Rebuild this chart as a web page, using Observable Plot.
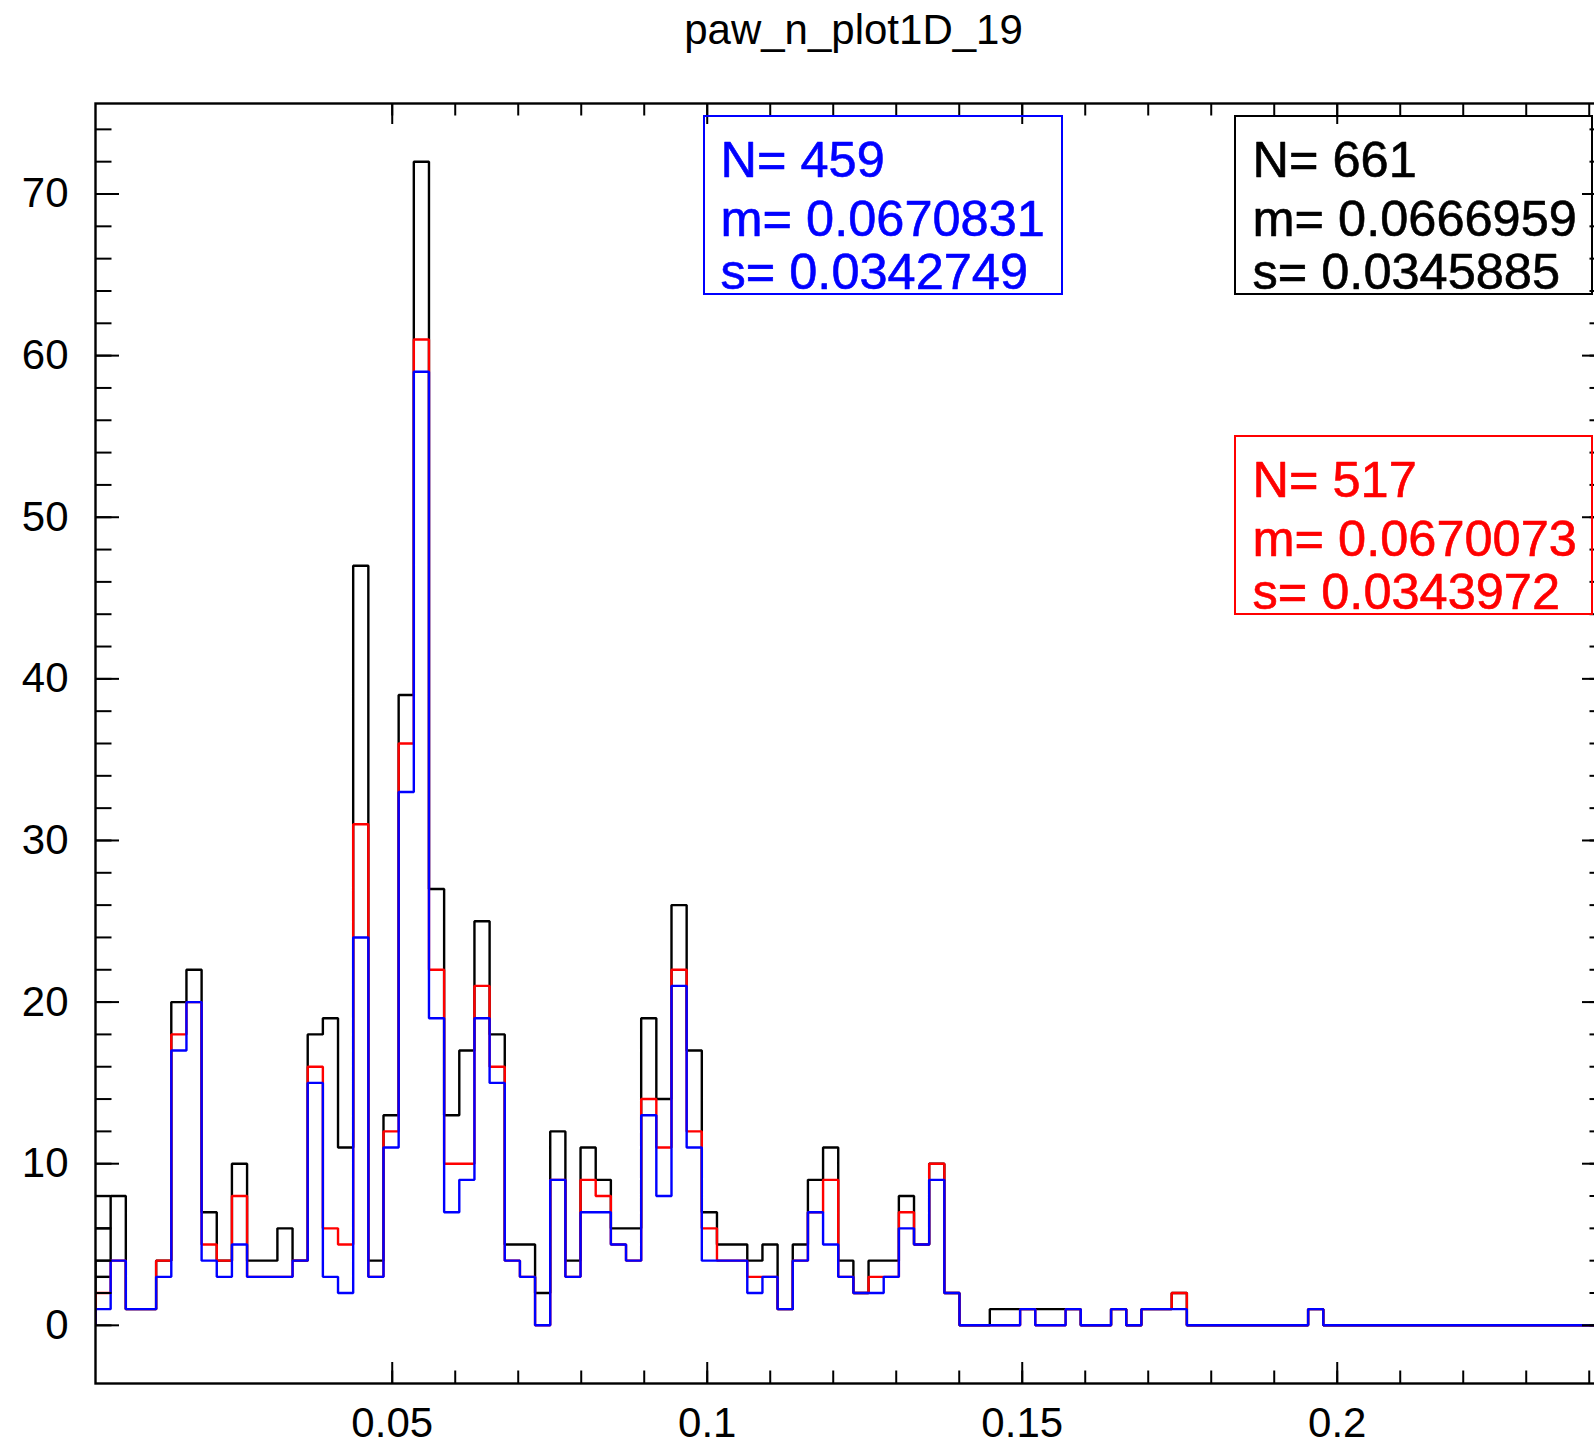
<!DOCTYPE html>
<html>
<head>
<meta charset="utf-8">
<script src="https://cdn.jsdelivr.net/npm/d3@7"></script>
<script src="https://cdn.jsdelivr.net/npm/@observablehq/plot@0.6"></script>
<style>
html, body { margin: 0; padding: 0; background: #fff; overflow: hidden; }
#chart { position: relative; width: 1594px; height: 1447px; overflow: hidden; }
#chart svg { max-width: none !important; }
</style>
</head>
<body>
<div id="chart"></div>
<script>
// ---------------- data ----------------
const title = "paw_n_plot1D_19";
const binStart = 0.0029;
const binWidth = 0.002406;

const countsBlack = [4,8,1,1,4,20,22,7,4,10, 4,4,6,4,18,19,11,47,4,13, 39,72,27,13,17,25,18,5,5,2,
  12,4,11,9,6,6,19,14,26,17, 7,5,5,4,5,1,5,9,11,4, 2,4,4,8,5,10,2,0,0,1, 1,1,1,1,1,0,0,1,0,1,
  1,2,0,0,0,0,0,0,0,0, 1,0,0,0,0,0,0,0,0,0, 0,0,0,0,0,0,0,0,0,0];
const countsRed = [2,4,1,1,4,18,20,5,4,8, 3,3,3,4,16,6,5,31,3,12, 36,61,22,10,10,21,16,4,3,0,
  9,3,9,8,5,4,14,11,22,12, 6,4,4,3,3,1,4,7,9,3, 2,3,3,7,5,10,2,0,0,0, 0,1,0,0,1,0,0,1,0,1,
  1,2,0,0,0,0,0,0,0,0, 1,0,0,0,0,0,0,0,0,0, 0,0,0,0,0,0,0,0,0,0];
const countsBlue = [1,4,1,1,3,17,20,4,3,5, 3,3,3,4,15,3,2,24,3,11, 33,59,19,7,9,19,15,4,3,0,
  9,3,7,7,5,4,13,8,21,11, 4,4,4,2,3,1,4,7,5,3, 2,2,3,6,5,9,2,0,0,0, 0,1,0,0,1,0,0,1,0,1,
  1,1,0,0,0,0,0,0,0,0, 1,0,0,0,0,0,0,0,0,0, 0,0,0,0,0,0,0,0,0,0];
// extra short black segments visible inside the first bin
const blackBin0Extra = [8, 6, 3];

const xMajorTicks = [0.05, 0.1, 0.15, 0.2];
const xTickLabels = ["0.05", "0.1", "0.15", "0.2"];
const xMinorTicks = [0.05,0.06,0.07,0.08,0.09,0.1,0.11,0.12,0.13,0.14,0.15,0.16,0.17,0.18,0.19,0.2,0.21,0.22,0.23,0.24];
const yMajorTicks = [0,10,20,30,40,50,60,70];
const yMinorTicks = [0,2,4,6,8,10,12,14,16,18,20,22,24,26,28,30,32,34,36,38,40,42,44,46,48,50,52,54,56,58,60,62,64,66,68,70,72,74];

const statsBlue  = ["N= 459", "m= 0.0670831", "s= 0.0342749"];
const statsBlack = ["N= 661", "m= 0.0666959", "s= 0.0345885"];
const statsRed   = ["N= 517", "m= 0.0670073", "s= 0.0343972"];

// ---------------- layout ----------------
const W = 1606, H = 1447;
const mL = 95, mR = 0, mT = 103, mB = 64;
const xMin = 0.0029, xMax = 0.0029 + (W - mL - mR) / 6300;
const yMin = -3.6, yMax = 75.6;
const kx = (W - mL - mR) / (xMax - xMin);
const ky = (H - mT - mB) / (yMax - yMin);
const FONT = "'Liberation Sans', Arial, Helvetica, sans-serif";
const LW = 2.4;

function outline(counts) {
  const pts = [{x: binStart, y: 0}];
  counts.forEach((v, i) => pts.push({x: binStart + i * binWidth, y: v}));
  pts.push({x: binStart + counts.length * binWidth, y: counts[counts.length - 1]});
  return pts;
}

const lineOpts = (color) => ({x: "x", y: "y", curve: "step-after", stroke: color, strokeWidth: LW,
  strokeLinejoin: "miter", strokeLinecap: "butt", clip: true});

const marks = [
  Plot.line(outline(countsBlack), lineOpts("#000000")),
  Plot.ruleY(blackBin0Extra, {y: d => d, x1: binStart, x2: binStart + binWidth, stroke: "#000", strokeWidth: LW}),
  Plot.line(outline(countsRed), lineOpts("#ff0000")),
  Plot.line(outline(countsBlue), lineOpts("#0000ff")),
  // inward ticks, bottom and top
  Plot.ruleX(xMajorTicks, {x: d => d, y1: yMin, y2: yMin + 21 / ky, stroke: "#000", strokeWidth: 2}),
  Plot.ruleX(xMinorTicks, {x: d => d, y1: yMin, y2: yMin + 12.5 / ky, stroke: "#000", strokeWidth: 2}),
  Plot.ruleX(xMajorTicks, {x: d => d, y1: yMax, y2: yMax - 21 / ky, stroke: "#000", strokeWidth: 2}),
  Plot.ruleX(xMinorTicks, {x: d => d, y1: yMax, y2: yMax - 12.5 / ky, stroke: "#000", strokeWidth: 2}),
  // inward ticks, left and right
  Plot.ruleY(yMajorTicks, {y: d => d, x1: xMin, x2: xMin + 24 / kx, stroke: "#000", strokeWidth: 2}),
  Plot.ruleY(yMinorTicks, {y: d => d, x1: xMin, x2: xMin + 16.5 / kx, stroke: "#000", strokeWidth: 2}),
  Plot.ruleY(yMajorTicks, {y: d => d, x1: xMax, x2: xMax - 24 / kx, stroke: "#000", strokeWidth: 2}),
  Plot.ruleY(yMinorTicks, {y: d => d, x1: xMax, x2: xMax - 16.5 / kx, stroke: "#000", strokeWidth: 2}),
  Plot.frame({stroke: "#000", strokeWidth: 2.4}),
  Plot.axisX(xMajorTicks, {tickSize: 0, tickPadding: 24, fontSize: 42, label: null,
    tickFormat: (d, i) => xTickLabels[i], fill: "#000", stroke: "#000", strokeWidth: 0.4}),
  Plot.axisY(yMajorTicks, {tickSize: 0, tickPadding: 27, fontSize: 42, label: null,
    tickFormat: d => String(d), fill: "#000", stroke: "#000", strokeWidth: 0.4}),
  Plot.text([title], {text: d => d, frameAnchor: "top", dx: 2.5, dy: -60, lineAnchor: "bottom",
    fontSize: 42, fill: "#000"})
];

const boxes = [
  {lines: statsBlue,  color: "#0000ff", tx: 720,  baselines: [176, 235, 288], rect: [704, 116, 1062, 294]},
  {lines: statsBlack, color: "#000000", tx: 1252, baselines: [176, 235, 288], rect: [1235, 116, 1592, 294]},
  {lines: statsRed,   color: "#ff0000", tx: 1252, baselines: [496, 555, 608], rect: [1235, 436, 1592, 614]}
];
for (const b of boxes) {
  b.lines.forEach((s, i) => {
    marks.push(Plot.text([s], {text: d => d, frameAnchor: "top-left", dx: b.tx - mL, dy: b.baselines[i] - mT,
      lineAnchor: "bottom", textAnchor: "start", fontSize: 50.5, fill: b.color,
      stroke: b.color, strokeWidth: 0.6}));
  });
}

const chart = Plot.plot({
  width: W, height: H,
  marginLeft: mL, marginRight: mR, marginTop: mT, marginBottom: mB,
  x: {domain: [xMin, xMax]},
  y: {domain: [yMin, yMax]},
  style: {fontFamily: FONT, background: "#fff", overflow: "visible", maxWidth: "none"},
  marks
});
chart.style.maxWidth = "none";

const svg = d3.select(chart);
for (const b of boxes) {
  const [x1, y1, x2, y2] = b.rect;
  svg.append("rect").attr("x", x1).attr("y", y1).attr("width", x2 - x1).attr("height", y2 - y1)
    .attr("fill", "none").attr("stroke", b.color).attr("stroke-width", 2);
}
document.getElementById("chart").appendChild(chart);
</script>
</body>
</html>
